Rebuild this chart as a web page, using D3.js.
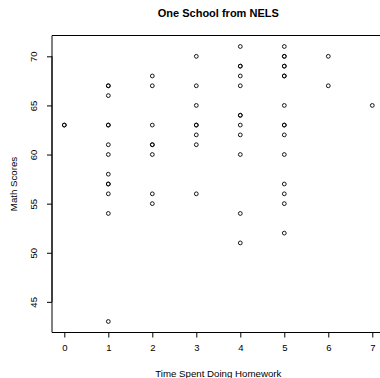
<!DOCTYPE html>
<html>
<head>
<meta charset="utf-8">
<script src="https://cdn.jsdelivr.net/npm/d3@7"></script>
<style>
  html, body { margin: 0; padding: 0; background: #fff; overflow: hidden; }
  svg { display: block; }
  text { font-family: "Liberation Sans", Arial, sans-serif; fill: #000; }
</style>
</head>
<body>
<script>
// Homework hours and math scores, one group per hours value
const hours = [0, 1, 2, 3, 4, 5, 6, 7];
const scoresByHours = [
  [63, 63],
  [67, 67, 66, 63, 63, 61, 60, 58, 57, 57, 56, 54, 43],
  [68, 67, 63, 61, 61, 60, 56, 55],
  [70, 67, 65, 63, 63, 62, 61, 56],
  [71, 69, 69, 68, 67, 64, 64, 63, 62, 60, 54, 51],
  [71, 70, 70, 69, 69, 68, 68, 65, 63, 63, 62, 60, 57, 56, 55, 52],
  [70, 67],
  [65]
];
const xTicks = [0, 1, 2, 3, 4, 5, 6, 7];
const yTicks = [45, 50, 55, 60, 65, 70];

const points = [];
hours.forEach((h, i) => scoresByHours[i].forEach(s => points.push({ h, s })));

const width = 380, height = 378;
const margin = { left: 52, top: 35.5, right: -4.6, bottom: 45.5 };

const svg = d3.select("body").append("svg")
    .attr("width", width)
    .attr("height", height);

// R style 4% padding on each side
const x = d3.scaleLinear()
    .domain([-0.28, 7.28])
    .range([margin.left, width - margin.right]);
const y = d3.scaleLinear()
    .domain([41.88, 72.12])
    .range([height - margin.bottom, margin.top]);

// plot box: its right side falls off the canvas, so only three sides show
const boxTop = margin.top, boxBottom = height - margin.bottom;
svg.append("path")
    .attr("d", `M${width + 2},${boxTop}H${margin.left}V${boxBottom}H${width + 2}`)
    .attr("fill", "none")
    .attr("stroke", "#000")
    .attr("stroke-width", 1);

// x axis
const xAxis = svg.append("g")
    .attr("transform", `translate(0,${boxBottom})`)
    .call(d3.axisBottom(x).tickValues(xTicks).tickSize(5).tickPadding(7).tickFormat(d3.format("d")));
xAxis.select(".domain").attr("d", `M${x(0)},0H${x(7)}`);
xAxis.selectAll("text").attr("font-size", 9.5).attr("font-family", "Liberation Sans, Arial, sans-serif");

// y axis
const yAxis = svg.append("g")
    .attr("transform", `translate(${margin.left},0)`)
    .call(d3.axisLeft(y).tickValues(yTicks).tickSize(5).tickFormat(d3.format("d")));
yAxis.select(".domain").attr("d", `M0,${y(45)}V${y(70)}`);
yAxis.selectAll("text")
    .attr("font-size", 9.5)
    .attr("font-family", "Liberation Sans, Arial, sans-serif")
    .attr("text-anchor", "middle")
    .attr("x", 0)
    .attr("dy", 0)
    .attr("transform", "translate(-15,0) rotate(-90)");

// points
svg.append("g").selectAll("circle")
    .data(points)
    .enter().append("circle")
    .attr("cx", d => x(d.h))
    .attr("cy", d => y(d.s))
    .attr("r", 1.9)
    .attr("fill", "none")
    .attr("stroke", "#000")
    .attr("stroke-width", 0.9);

// title and axis labels
const cx = (margin.left + width - margin.right) / 2;
svg.append("text")
    .attr("x", cx)
    .attr("y", 17)
    .attr("text-anchor", "middle")
    .attr("font-size", 11)
    .attr("font-weight", "bold")
    .text("One School from NELS");

svg.append("text")
    .attr("x", cx)
    .attr("y", 376.5)
    .attr("text-anchor", "middle")
    .attr("font-size", 9.7)
    .text("Time Spent Doing Homework");

svg.append("text")
    .attr("transform", `translate(17,${(boxTop + boxBottom) / 2}) rotate(-90)`)
    .attr("text-anchor", "middle")
    .attr("font-size", 9.7)
    .text("Math Scores");
</script>
</body>
</html>
